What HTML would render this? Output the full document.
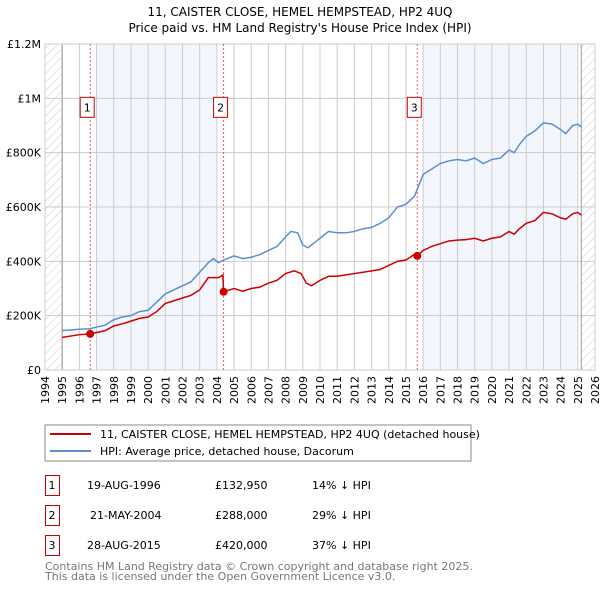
<!DOCTYPE html>
<html><head><meta charset="utf-8"><style>
body{margin:0;background:#fff;width:600px;height:590px;overflow:hidden}
svg text{font-family:"DejaVu Sans","Liberation Sans",sans-serif}
</style></head><body>
<svg id="c" width="600" height="590" xmlns="http://www.w3.org/2000/svg">
<defs><pattern id="h" width="6" height="6" patternUnits="userSpaceOnUse" patternTransform="rotate(45)"><line x1="0" y1="0" x2="0" y2="6" stroke="#ccc" stroke-width="1"/></pattern></defs>
<text x="300" y="16" text-anchor="middle" font-size="12">11, CAISTER CLOSE, HEMEL HEMPSTEAD, HP2 4UQ</text>
<text x="300" y="32" text-anchor="middle" font-size="12">Price paid vs. HM Land Registry's House Price Index (HPI)</text>
<g id="plot"></g>
<rect x="45" y="425" width="426" height="36" fill="#fff" stroke="#888"/>
<line x1="50" y1="434" x2="91" y2="434" stroke="#cc0000" stroke-width="2"/>
<text x="100" y="438" font-size="11">11, CAISTER CLOSE, HEMEL HEMPSTEAD, HP2 4UQ (detached house)</text>
<line x1="50" y1="451" x2="91" y2="451" stroke="#5b8fd0" stroke-width="2"/>
<text x="100" y="455" font-size="11">HPI: Average price, detached house, Dacorum</text>
<g font-size="11">
<rect x="45.5" y="475.5" width="14" height="20" fill="none" stroke="#c00"/><text x="52" y="489" text-anchor="middle">1</text>
<text x="87" y="489">19-AUG-1996</text><text x="215" y="489">£132,950</text><text x="312" y="489">14% ↓ HPI</text>
<rect x="45.5" y="505.5" width="14" height="20" fill="none" stroke="#c00"/><text x="52" y="519" text-anchor="middle">2</text>
<text x="90" y="519">21-MAY-2004</text><text x="215" y="519">£288,000</text><text x="312" y="519">29% ↓ HPI</text>
<rect x="45.5" y="535.5" width="14" height="20" fill="none" stroke="#c00"/><text x="52" y="549" text-anchor="middle">3</text>
<text x="87" y="549">28-AUG-2015</text><text x="215" y="549">£420,000</text><text x="312" y="549">37% ↓ HPI</text>
</g>
<text x="45" y="570" font-size="11" fill="#777">Contains HM Land Registry data © Crown copyright and database right 2025.</text>
<text x="45" y="580" font-size="11" fill="#777">This data is licensed under the Open Government Licence v3.0.</text>
</svg>
<script>
const yTicks=[0,200000,400000,600000,800000,1000000,1200000];
const yLabels=["£0","£200K","£400K","£600K","£800K","£1M","£1.2M"];
const hpiX=[1995,1996,1996.6,1997,1997.5,1998,1998.5,1999,1999.5,2000,2000.5,2001,2001.5,2002,2002.5,2003,2003.5,2003.8,2004.1,2004.4,2005,2005.5,2006,2006.5,2007,2007.5,2008,2008.3,2008.7,2009,2009.3,2009.7,2010,2010.5,2011,2011.5,2012,2012.5,2013,2013.5,2014,2014.5,2015,2015.5,2016,2016.5,2017,2017.5,2018,2018.5,2019,2019.5,2020,2020.5,2021,2021.3,2021.6,2022,2022.5,2023,2023.5,2024,2024.3,2024.7,2025,2025.2];
const hpiY=[145,150,152,158,165,185,195,200,215,220,250,280,295,310,325,360,395,410,395,405,420,410,415,425,440,455,490,510,505,460,450,470,485,510,505,505,510,520,525,540,560,600,610,640,720,740,760,770,775,770,780,760,775,780,810,800,830,860,880,910,905,885,870,900,905,895];
const propX=[1995,1996,1996.63,1997,1997.5,1998,1998.5,1999,1999.5,2000,2000.5,2001,2001.5,2002,2002.5,2003,2003.5,2004.1,2004.35,2004.39,2005,2005.5,2006,2006.5,2007,2007.5,2008,2008.5,2008.9,2009.2,2009.5,2010,2010.5,2011,2011.5,2012,2012.5,2013,2013.5,2014,2014.5,2015,2015.6,2015.66,2016,2016.5,2017,2017.5,2018,2018.5,2019,2019.5,2020,2020.5,2021,2021.3,2021.6,2022,2022.5,2023,2023.5,2024,2024.3,2024.7,2025,2025.2];
const propY=[120,130,133,138,145,162,170,180,190,195,215,245,255,265,275,295,340,340,350,288,300,290,300,305,320,330,355,365,355,320,310,330,345,345,350,355,360,365,370,385,400,405,430,420,440,455,465,475,478,480,485,475,485,490,510,500,520,540,550,580,575,560,555,575,580,570];
const saleYears=[1996.63,2004.39,2015.66];
const salePrices=[132950,288000,420000];
const saleLabels=["1","2","3"];
const X0=45,X1=595,Y0=370,Y1=44;
const sx=t=>X0+(t-1994)*(X1-X0)/32;
const sy=v=>Y0-v*(Y0-Y1)/1200000;
const g=document.getElementById('plot');
const NS='http://www.w3.org/2000/svg';
function mk(tag,a,p){const e=document.createElementNS(NS,tag);for(const k in a)e.setAttribute(k,a[k]);(p||g).appendChild(e);return e;}
let e;
e=mk('rect',{x:sx(1997),y:Y1,width:sx(2004)-sx(1997),height:Y0-Y1,fill:'#eef3fc',opacity:0.7});


e=mk('rect',{x:sx(2016),y:Y1,width:sx(2025)-sx(2016),height:Y0-Y1,fill:'#eef3fc',opacity:0.7});


e=mk('rect',{x:X0,y:Y1,width:sx(1995)-X0,height:Y0-Y1,fill:'url(#h)'});


e=mk('rect',{x:sx(2025.2),y:Y1,width:X1-sx(2025.2),height:Y0-Y1,fill:'url(#h)'});


for(let yr=1994;yr<=2026;yr++){
 e=mk('line',{x1:sx(yr),x2:sx(yr),y1:Y1,y2:Y0,stroke:'#ccc','stroke-width':1});
 
 
 e=mk('text',{x:0,y:0,'font-size':11,'text-anchor':'end',transform:`translate(${sx(yr)+4},${Y0+6}) rotate(-90)`});
 e.textContent=yr;
 
 
}
yTicks.forEach((v,i)=>{
 e=mk('line',{x1:X0,x2:X1,y1:sy(v),y2:sy(v),stroke:'#ccc','stroke-width':1});
 
 
 e=mk('text',{x:X0-4,y:sy(v)+4,'font-size':11,'text-anchor':'end'});
 e.textContent=yLabels[i];
 
 
});
[1995,2025.2].forEach(t=>{mk('line',{x1:sx(t),x2:sx(t),y1:Y1,y2:Y0,stroke:'#999'});});
e=mk('rect',{x:X0,y:Y1,width:X1-X0,height:Y0-Y1,fill:'none',stroke:'#ccc'});


saleYears.forEach((t,i)=>{
 e=mk('line',{x1:sx(t),x2:sx(t),y1:Y1,y2:Y0,stroke:'#e55','stroke-width':1,'stroke-dasharray':'2,2'});
 
 
});
e=mk('polyline',{points:hpiX.map((t,i)=>sx(t)+','+sy(hpiY[i]*1000)).join(' '),fill:'none',stroke:'#5b8fd0','stroke-width':1.5});


e=mk('polyline',{points:propX.map((t,i)=>sx(t)+','+sy(propY[i]*1000)).join(' '),fill:'none',stroke:'#cc0000','stroke-width':1.5});


saleYears.forEach((t,i)=>{
 e=mk('circle',{cx:sx(t),cy:sy(salePrices[i]),r:4,fill:'#cc0000'});
 
 
 const bx=sx(t)-10,by=sy(1000000)-1;
 e=mk('rect',{x:bx,y:by,width:14,height:20,fill:'#fff',stroke:'#c00'});
 
 
 e=mk('text',{x:bx+7,y:by+14,'font-size':11,'text-anchor':'middle'});
 e.textContent=saleLabels[i];
 
 
});
</script>
</body></html>
